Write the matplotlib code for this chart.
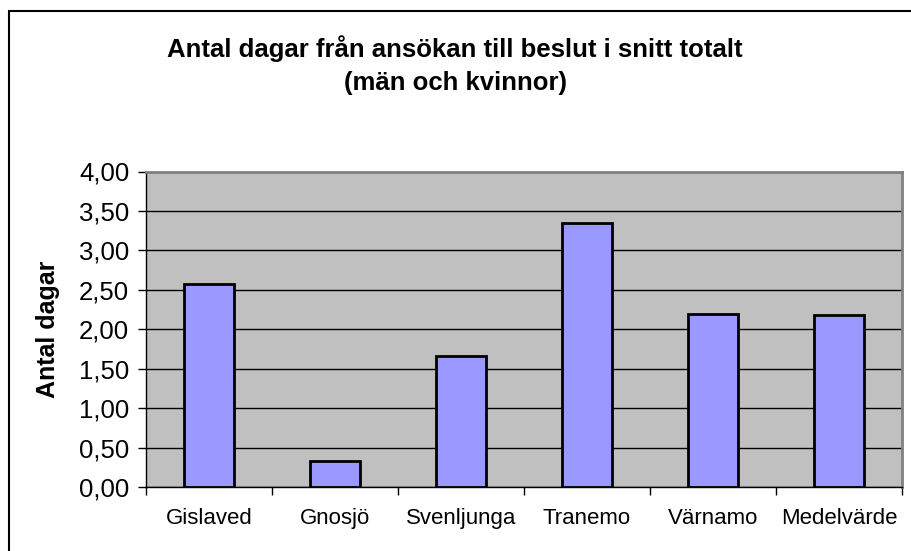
import matplotlib
matplotlib.use("Agg")
import matplotlib.pyplot as plt
from matplotlib.patches import Rectangle
from matplotlib.ticker import FuncFormatter, FixedLocator

plt.rcParams['font.family'] = ['Liberation Sans', 'DejaVu Sans']

kommuner = ["Gislaved", "Gnosjö", "Svenljunga", "Tranemo", "Värnamo", "Medelvärde"]
dagar = [2.58, 0.33, 1.66, 3.35, 2.19, 2.18]
yticks = [0, 0.5, 1.0, 1.5, 2.0, 2.5, 3.0, 3.5, 4.0]

W, H = 911, 551
fig = plt.figure(figsize=(W / 100, H / 100), dpi=100)
fig.patch.set_facecolor("white")

# outer chart border (cut at right and bottom like the original)
fig.add_artist(Rectangle((9 / W, -0.05), 1.2, 1 - 11 / H + 0.05, transform=fig.transFigure,
                         fill=False, edgecolor="black", lw=1.5))

ax = fig.add_axes([146 / W, 1 - 487 / H, (902 - 146) / W, (487 - 171.5) / H])
ax.set_facecolor("#C0C0C0")

x = range(len(kommuner))
ax.bar(x, dagar, width=0.4, color="#9999FF", edgecolor="black", linewidth=2, zorder=3)

ax.set_xlim(-0.5, len(kommuner) - 0.5)
ax.set_ylim(0, 4)
ax.set_yticks(yticks)
ax.yaxis.set_major_formatter(FuncFormatter(lambda v, p: f"{v:.2f}".replace(".", ",")))
ax.grid(axis="y", color="black", lw=1, zorder=1)

# category boundary ticks and centered labels
ax.xaxis.set_major_locator(FixedLocator([i - 0.5 for i in range(len(kommuner) + 1)]))
ax.xaxis.set_major_formatter(FuncFormatter(lambda v, p: ""))
ax.set_xticks(list(x), minor=True)
ax.set_xticklabels(kommuner, minor=True)
ax.tick_params(axis="x", which="minor", length=0, pad=15, labelsize=16)
ax.tick_params(axis="x", which="major", length=6, width=1, direction="out")
ax.tick_params(axis="y", length=6, width=1, direction="out", labelsize=18.5, pad=6)

for s in ["top", "right"]:
    ax.spines[s].set_color("#808080")
    ax.spines[s].set_linewidth(2)
for s in ["left", "bottom"]:
    ax.spines[s].set_color("black")
    ax.spines[s].set_linewidth(1)

ax.set_ylabel("Antal dagar", fontsize=18, fontweight="bold", labelpad=14)

fig.text(455 / W, 1 - 65 / H, "Antal dagar från ansökan till beslut i snitt totalt\n(män och kvinnor)",
         ha="center", va="center", fontsize=18.5, fontweight="bold", linespacing=1.45)

fig.savefig("out.png", dpi=100)
